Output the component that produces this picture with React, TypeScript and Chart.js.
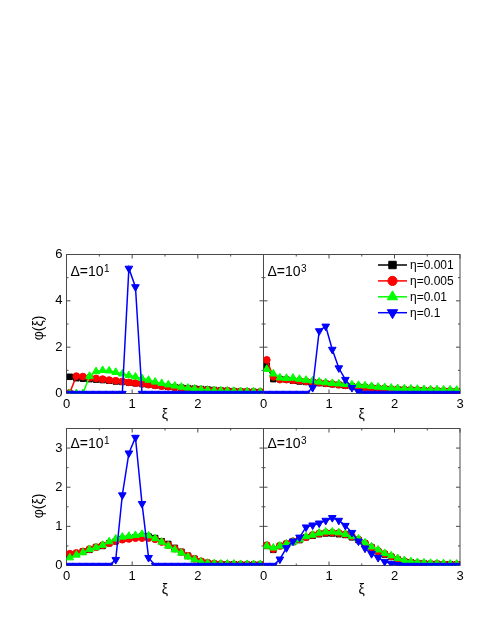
import React, { useEffect, useRef } from 'react';
import { Chart, registerables } from 'chart.js';
import { drawPoint } from 'chart.js/helpers';

Chart.register(...registerables);

const FONT = 'Arial, "Liberation Sans", Helvetica, sans-serif';

// bin centres of ξ
const XI = [0.05, 0.15, 0.25, 0.35, 0.45, 0.55, 0.65, 0.75, 0.85, 0.95, 1.05, 1.15, 1.25, 1.35, 1.45,
  1.55, 1.65, 1.75, 1.85, 1.95, 2.05, 2.15, 2.25, 2.35, 2.45, 2.55, 2.65, 2.75, 2.85, 2.95];

const ETA_LABELS = ['η=0.001', 'η=0.005', 'η=0.01', 'η=0.1'];
const COLORS = ['#000000', '#ff0000', '#00ff00', '#0000ff'];
const STYLES = ['rect', 'circle', 'triangle', 'triangle'];
const ROTATIONS = [0, 0, 0, 180];
const RADII = [3.9, 3.4, 4.4, 4.4];

const X_TICKS = [0, 1, 2, 3];
const Y_TICKS_TOP = [0, 2, 4, 6];
const Y_TICKS_BOTTOM = [0, 1, 2, 3];

// top row, Δ=10^1
const TL_BLACK = [0.72, 0.66, 0.64, 0.62, 0.60, 0.58, 0.55, 0.52, 0.50, 0.47, 0.44, 0.41, 0.38, 0.35, 0.32, 0.29, 0.27, 0.25, 0.23, 0.21, 0.19, 0.17, 0.15, 0.13, 0.12, 0.10, 0.09, 0.08, 0.07, 0.06];
const TL_RED = [0.03, 0.75, 0.73, 0.68, 0.65, 0.62, 0.58, 0.55, 0.52, 0.48, 0.45, 0.42, 0.38, 0.35, 0.32, 0.29, 0.26, 0.23, 0.21, 0.19, 0.17, 0.15, 0.13, 0.12, 0.11, 0.10, 0.09, 0.08, 0.07, 0.07];
const TL_GREEN = [0, 0, 0, 0.75, 0.95, 1.0, 0.98, 0.92, 0.85, 0.78, 0.72, 0.65, 0.58, 0.50, 0.44, 0.38, 0.33, 0.28, 0.24, 0.20, 0.17, 0.15, 0.13, 0.12, 0.11, 0.10, 0.09, 0.08, 0.08, 0.07];
const TL_BLUE = [0, 0, 0, 0, 0, 0, 0, 0, 0, 5.4, 4.6, 0, 0, 0, 0, 0, 0, 0, 0, 0, 0, 0, 0, 0, 0, 0, 0, 0, 0, 0];

// top row, Δ=10^3
const TR_BLACK = [1.2, 0.62, 0.62, 0.60, 0.55, 0.52, 0.50, 0.48, 0.45, 0.42, 0.40, 0.37, 0.34, 0.31, 0.28, 0.26, 0.24, 0.22, 0.20, 0.18, 0.17, 0.16, 0.15, 0.14, 0.13, 0.12, 0.11, 0.10, 0.10, 0.09];
const TR_RED = [1.45, 0.72, 0.60, 0.60, 0.57, 0.55, 0.52, 0.50, 0.47, 0.44, 0.41, 0.38, 0.35, 0.32, 0.29, 0.27, 0.25, 0.23, 0.21, 0.19, 0.18, 0.17, 0.16, 0.15, 0.14, 0.13, 0.12, 0.11, 0.11, 0.10];
const TR_GREEN = [1.05, 0.85, 0.68, 0.66, 0.67, 0.62, 0.58, 0.55, 0.50, 0.47, 0.44, 0.42, 0.40, 0.38, 0.36, 0.34, 0.31, 0.28, 0.26, 0.24, 0.22, 0.21, 0.20, 0.19, 0.18, 0.17, 0.17, 0.16, 0.16, 0.15];
const TR_BLUE = [0, 0, 0, 0, 0, 0, 0, 0.25, 2.7, 2.9, 1.9, 1.1, 0.6, 0.25, 0.08, 0, 0, 0, 0, 0, 0, 0, 0, 0, 0, 0, 0, 0, 0, 0];

// bottom row, Δ=10^1
const BL_BLACK = [0.28, 0.30, 0.36, 0.40, 0.47, 0.50, 0.57, 0.62, 0.68, 0.70, 0.72, 0.75, 0.74, 0.70, 0.62, 0.55, 0.45, 0.35, 0.25, 0.17, 0.10, 0.06, 0.04, 0.03, 0.03, 0.03, 0.02, 0.02, 0.02, 0.02];
const BL_RED = [0.30, 0.32, 0.36, 0.42, 0.47, 0.52, 0.57, 0.62, 0.66, 0.68, 0.70, 0.70, 0.70, 0.67, 0.60, 0.52, 0.43, 0.34, 0.25, 0.17, 0.11, 0.07, 0.05, 0.04, 0.03, 0.03, 0.03, 0.02, 0.02, 0.02];
const BL_GREEN = [0.20, 0.27, 0.33, 0.41, 0.46, 0.52, 0.61, 0.68, 0.73, 0.75, 0.77, 0.80, 0.76, 0.69, 0.60, 0.50, 0.40, 0.32, 0.22, 0.15, 0.09, 0.06, 0.05, 0.04, 0.04, 0.04, 0.03, 0.03, 0.03, 0.03];
const BL_BLUE = [0, 0, 0, 0, 0, 0, 0, 0.15, 1.8, 2.87, 3.27, 1.58, 0.2, 0, 0, 0, 0, 0, 0, 0, 0, 0, 0, 0, 0, 0, 0, 0, 0, 0];

// bottom row, Δ=10^3
const BR_BLACK = [0.50, 0.40, 0.50, 0.55, 0.60, 0.65, 0.72, 0.76, 0.80, 0.82, 0.82, 0.80, 0.78, 0.72, 0.65, 0.56, 0.46, 0.36, 0.28, 0.22, 0.15, 0.10, 0.08, 0.06, 0.05, 0.04, 0.04, 0.03, 0.03, 0.03];
const BR_RED = [0.52, 0.42, 0.50, 0.56, 0.62, 0.67, 0.72, 0.78, 0.82, 0.84, 0.84, 0.83, 0.80, 0.74, 0.66, 0.57, 0.47, 0.37, 0.30, 0.23, 0.16, 0.11, 0.08, 0.06, 0.05, 0.04, 0.04, 0.03, 0.03, 0.03];
const BR_GREEN = [0.50, 0.45, 0.50, 0.55, 0.60, 0.66, 0.74, 0.78, 0.83, 0.86, 0.86, 0.84, 0.80, 0.74, 0.68, 0.58, 0.48, 0.40, 0.31, 0.25, 0.18, 0.13, 0.10, 0.08, 0.07, 0.06, 0.05, 0.05, 0.04, 0.04];
const BR_BLUE = [0, 0, 0.16, 0.45, 0.62, 0.72, 0.98, 1.03, 1.08, 1.15, 1.22, 1.15, 1.02, 0.84, 0.62, 0.44, 0.30, 0.20, 0.10, 0.05, 0.02, 0, 0, 0, 0, 0, 0, 0, 0, 0];

const PANELS = [
  { series: [TL_BLACK, TL_RED, TL_GREEN, TL_BLUE], sup: '1', yTicks: Y_TICKS_TOP, ymax: 6, yMajor: 2, yMinor: 1,
    showY: true, hideLastX: true, legend: false, yTitle: { x: 39, y: 328 },
    pad: { left: 0, right: 216.5, top: 254.5, bottom: 197.5 }, yw: 66.5, xh: 30 },
  { series: [TR_BLACK, TR_RED, TR_GREEN, TR_BLUE], sup: '3', yTicks: Y_TICKS_TOP, ymax: 6, yMajor: 2, yMinor: 1,
    showY: false, hideLastX: false, legend: true, yTitle: null,
    pad: { left: 263.5, right: 20, top: 254.5, bottom: 197.5 }, yw: 0, xh: 30 },
  { series: [BL_BLACK, BL_RED, BL_GREEN, BL_BLUE], sup: '1', yTicks: Y_TICKS_BOTTOM, ymax: 3.5, yMajor: 1, yMinor: 0.5,
    showY: true, hideLastX: true, legend: false, yTitle: { x: 39, y: 506 },
    pad: { left: 0, right: 216.5, top: 428.5, bottom: 22.5 }, yw: 66.5, xh: 33 },
  { series: [BR_BLACK, BR_RED, BR_GREEN, BR_BLUE], sup: '3', yTicks: Y_TICKS_BOTTOM, ymax: 3.5, yMajor: 1, yMinor: 0.5,
    showY: false, hideLastX: false, legend: false, yTitle: null,
    pad: { left: 263.5, right: 20, top: 428.5, bottom: 22.5 }, yw: 0, xh: 33 },
];

const decoPlugin = {
  id: 'panelDeco',
  beforeDatasetsDraw(chart: any, _a: any, opts: any) {
    const { ctx, chartArea: a, scales } = chart;
    const xs = scales.x, ys = scales.y;
    ctx.save();
    ctx.strokeStyle = '#4a4a4a';
    ctx.lineWidth = 1;
    ctx.strokeRect(a.left, a.top, a.right - a.left, a.bottom - a.top);
    ctx.beginPath();
    for (let v = 0; v <= 3.0001; v += 0.5) {
      const px = xs.getPixelForValue(v);
      const len = Math.abs(v - Math.round(v)) < 1e-6 ? 4 : 2;
      ctx.moveTo(px, a.bottom); ctx.lineTo(px, a.bottom - len);
      ctx.moveTo(px, a.top); ctx.lineTo(px, a.top + len);
    }
    for (let v = 0; v <= opts.ymax + 1e-6; v += opts.yMinor) {
      const py = ys.getPixelForValue(v);
      const r = v / opts.yMajor;
      const len = Math.abs(r - Math.round(r)) < 1e-6 ? 4 : 2;
      ctx.moveTo(a.left, py); ctx.lineTo(a.left + len, py);
      ctx.moveTo(a.right, py); ctx.lineTo(a.right - len, py);
    }
    ctx.stroke();
    ctx.restore();
  },
  afterDraw(chart: any, _a: any, opts: any) {
    const { ctx, chartArea: a } = chart;
    ctx.save();
    ctx.fillStyle = '#000';
    ctx.textBaseline = 'alphabetic';
    ctx.textAlign = 'left';
    // panel label Δ=10^n
    const lx = a.left + 4;
    const ly = a.top + opts.labelDy;
    ctx.font = `14px ${FONT}`;
    ctx.fillText('Δ=10', lx, ly);
    const w = ctx.measureText('Δ=10').width;
    ctx.font = `10px ${FONT}`;
    ctx.fillText(opts.sup, lx + w + 0.5, ly - 4);
    // y title
    if (opts.yTitle) {
      ctx.save();
      ctx.translate(opts.yTitle.x, opts.yTitle.y);
      ctx.rotate(-Math.PI / 2);
      ctx.textAlign = 'center';
      ctx.textBaseline = 'middle';
      ctx.font = `14px ${FONT}`;
      ctx.fillText('φ(ξ)', 0, 0);
      ctx.restore();
    }
    // legend
    if (opts.legend) {
      const x0 = 378, x1 = 407, tx = 410;
      chart.data.datasets.forEach((ds: any, i: number) => {
        const y = 265 + i * 15.9;
        ctx.strokeStyle = ds.borderColor;
        ctx.fillStyle = ds.backgroundColor;
        ctx.lineWidth = 1.5;
        ctx.beginPath();
        ctx.moveTo(x0, y); ctx.lineTo(x1, y);
        ctx.stroke();
        ctx.lineWidth = 1;
        drawPoint(ctx, { pointStyle: ds.pointStyle, rotation: ds.pointRotation, radius: ds.pointRadius * 1.35, borderWidth: 1 }, (x0 + x1) / 2, y);
        ctx.fillStyle = '#000';
        ctx.font = `12px ${FONT}`;
        ctx.textBaseline = 'middle';
        ctx.fillText(ds.label, tx, y + 0.5);
      });
    }
    ctx.restore();
  },
};

function makeConfig(p: any): any {
  return {
    type: 'line',
    data: {
      datasets: p.series.map((vals: number[], i: number) => ({
        label: ETA_LABELS[i],
        data: XI.map((x, j) => ({ x, y: vals[j] })),
        borderColor: COLORS[i],
        backgroundColor: COLORS[i],
        pointBackgroundColor: COLORS[i],
        pointBorderColor: COLORS[i],
        borderWidth: 1.5,
        pointStyle: STYLES[i],
        pointRotation: ROTATIONS[i],
        pointRadius: RADII[i],
        pointBorderWidth: 1,
        order: 4 - i,
        clip: 0,
        tension: 0,
        fill: false,
      })),
    },
    options: {
      responsive: false,
      animation: false,
      events: [],
      layout: { padding: p.pad },
      plugins: {
        legend: { display: false },
        tooltip: { enabled: false },
        panelDeco: {
          ymax: p.ymax, yMajor: p.yMajor, yMinor: p.yMinor, sup: p.sup,
          legend: p.legend, yTitle: p.yTitle, labelDy: p.ymax === 6 ? 21 : 19,
        },
      },
      scales: {
        x: {
          type: 'linear', min: 0, max: 3, position: 'bottom',
          grid: { display: false, drawTicks: false },
          border: { display: false },
          afterBuildTicks: (s: any) => { s.ticks = X_TICKS.map((v) => ({ value: v })); },
          ticks: {
            padding: 3, color: '#000', font: { family: FONT, size: 13 }, maxRotation: 0,
            callback: (v: number) => (p.hideLastX && v === 3 ? '' : String(v)),
          },
          title: { display: true, text: 'ξ', color: '#000', font: { family: FONT, size: 14 }, padding: { top: 0, bottom: 0 } },
          afterFit: (s: any) => { s.height = p.xh; },
        },
        y: {
          type: 'linear', min: 0, max: p.ymax, position: 'left', display: p.showY,
          grid: { display: false, drawTicks: false },
          border: { display: false },
          afterBuildTicks: (s: any) => { s.ticks = p.yTicks.map((v: number) => ({ value: v })); },
          ticks: { padding: 4, color: '#000', font: { family: FONT, size: 13 } },
          afterFit: (s: any) => { s.width = p.yw; },
        },
      },
    },
    plugins: [decoPlugin],
  };
}

export default function App() {
  const r0 = useRef<HTMLCanvasElement>(null);
  const r1 = useRef<HTMLCanvasElement>(null);
  const r2 = useRef<HTMLCanvasElement>(null);
  const r3 = useRef<HTMLCanvasElement>(null);
  const refs = [r0, r1, r2, r3];
  useEffect(() => {
    const charts = PANELS.map((p, i) => new Chart(refs[i].current as HTMLCanvasElement, makeConfig(p)));
    return () => charts.forEach((c) => c.destroy());
  }, []);
  return (
    <div style={{ position: 'absolute', left: 0, top: 0, width: 480, height: 621, background: '#fff' }}>
      {PANELS.map((_, i) => (
        <canvas key={i} ref={refs[i]} width={480} height={621}
          style={{ position: 'absolute', left: 0, top: 0, width: 480, height: 621 }} />
      ))}
    </div>
  );
}
